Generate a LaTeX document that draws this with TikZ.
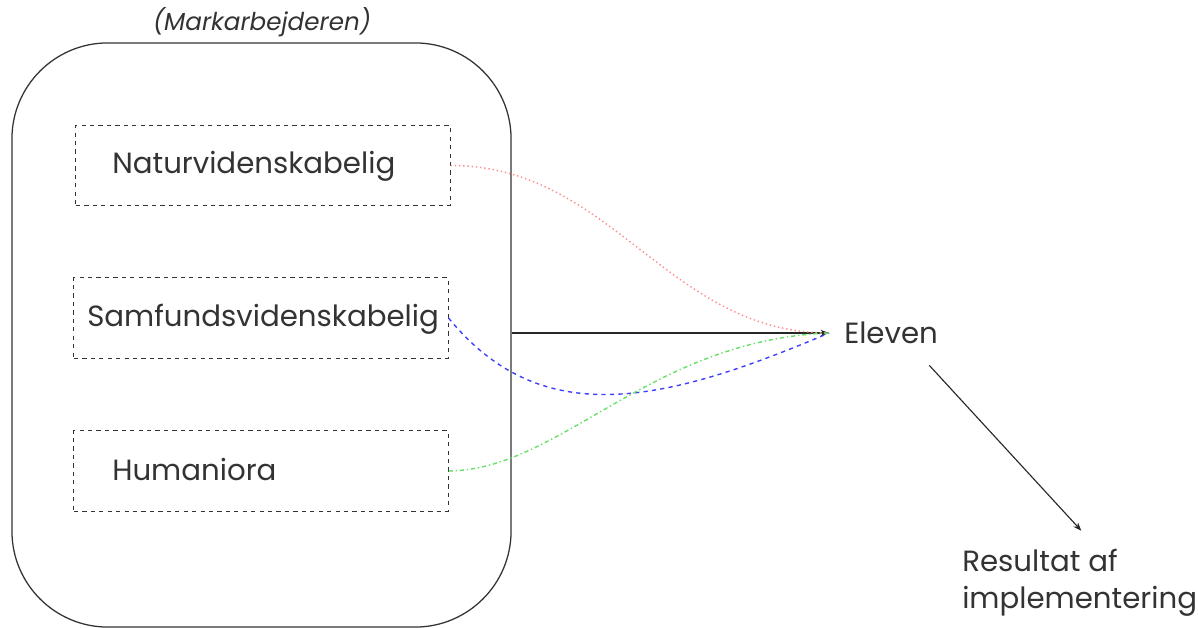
\documentclass[tikz,border=0pt]{standalone}
\usepackage{fontspec}
\setmainfont{Poppins}
\usetikzlibrary{calc,positioning,arrows.meta}
\tikzset{
    field/.style={
        rectangle,
        draw=black!80,
        dashed,
        line width=0.7pt,
        minimum width=9.35cm,
        minimum height=2cm,
        inner sep=0pt,
    },
    fieldtext/.style={
        font=\fontsize{20.8}{26}\selectfont,
        text=black!80,
        anchor=west,
        inner sep=0pt,
    },
    outerbox/.style={
        rectangle,
        draw=black!80,
        rounded corners=2.4cm,
        line width=0.9pt,
        minimum width=12.475cm,
        minimum height=14.6cm,
    },
    connector/.style={
        -{Stealth[length=6pt,width=4.5pt]},
        line width=0.8pt,
        draw=black!85,
    },
    link/.style={
        line width=1pt,
    },
}

\begin{document}
\begin{tikzpicture}[x=0.025cm,y=-0.025cm]
    \useasboundingbox (0,0) rectangle (1198,628);
    % the worker and the three fields
    \node[outerbox](worker) at (261.5,335) {};
    \node[font=\itshape\fontsize{17.5}{21}\selectfont,text=black!80](title) at (262,22) {(Markarbejderen)};
    \node[field](nat) at (263,165.5) {};
    \node[field](sam) at (261,318) {};
    \node[field](hum) at (261,471) {};
    \node[fieldtext](natT) at (112,166) {Naturvidenskabelig};
    \node[fieldtext](samT) at (87,319) {Samfundsvidenskabelig};
    \node[fieldtext](humT) at (112,470) {Humaniora};
    % the pupil
    \node[fieldtext,inner xsep=0.375cm](eleven) at (829,333) {Eleven};
    \node[fieldtext,align=left,anchor=north west](result) at (962,549) {Resultat af\\implementering};
    \draw[connector] (eleven.west -| worker.east) -- (eleven.west);
    \draw[link,red!45,dotted] (nat.east) to[out=0,in=180] (eleven.west);
    \draw[link,blue!75,dashed] (sam.east) .. controls (540,430) and (660,405) .. (eleven.west);
    \draw[link,green!80!black!60,dash dot] (hum.east) .. controls (560,470) and (650,340) .. (eleven.west);
    \draw[connector] ([xshift=-17pt,yshift=-15pt]eleven.south east) -- ([xshift=-2.9cm,yshift=13pt]result.north east);
\end{tikzpicture}
\end{document}
